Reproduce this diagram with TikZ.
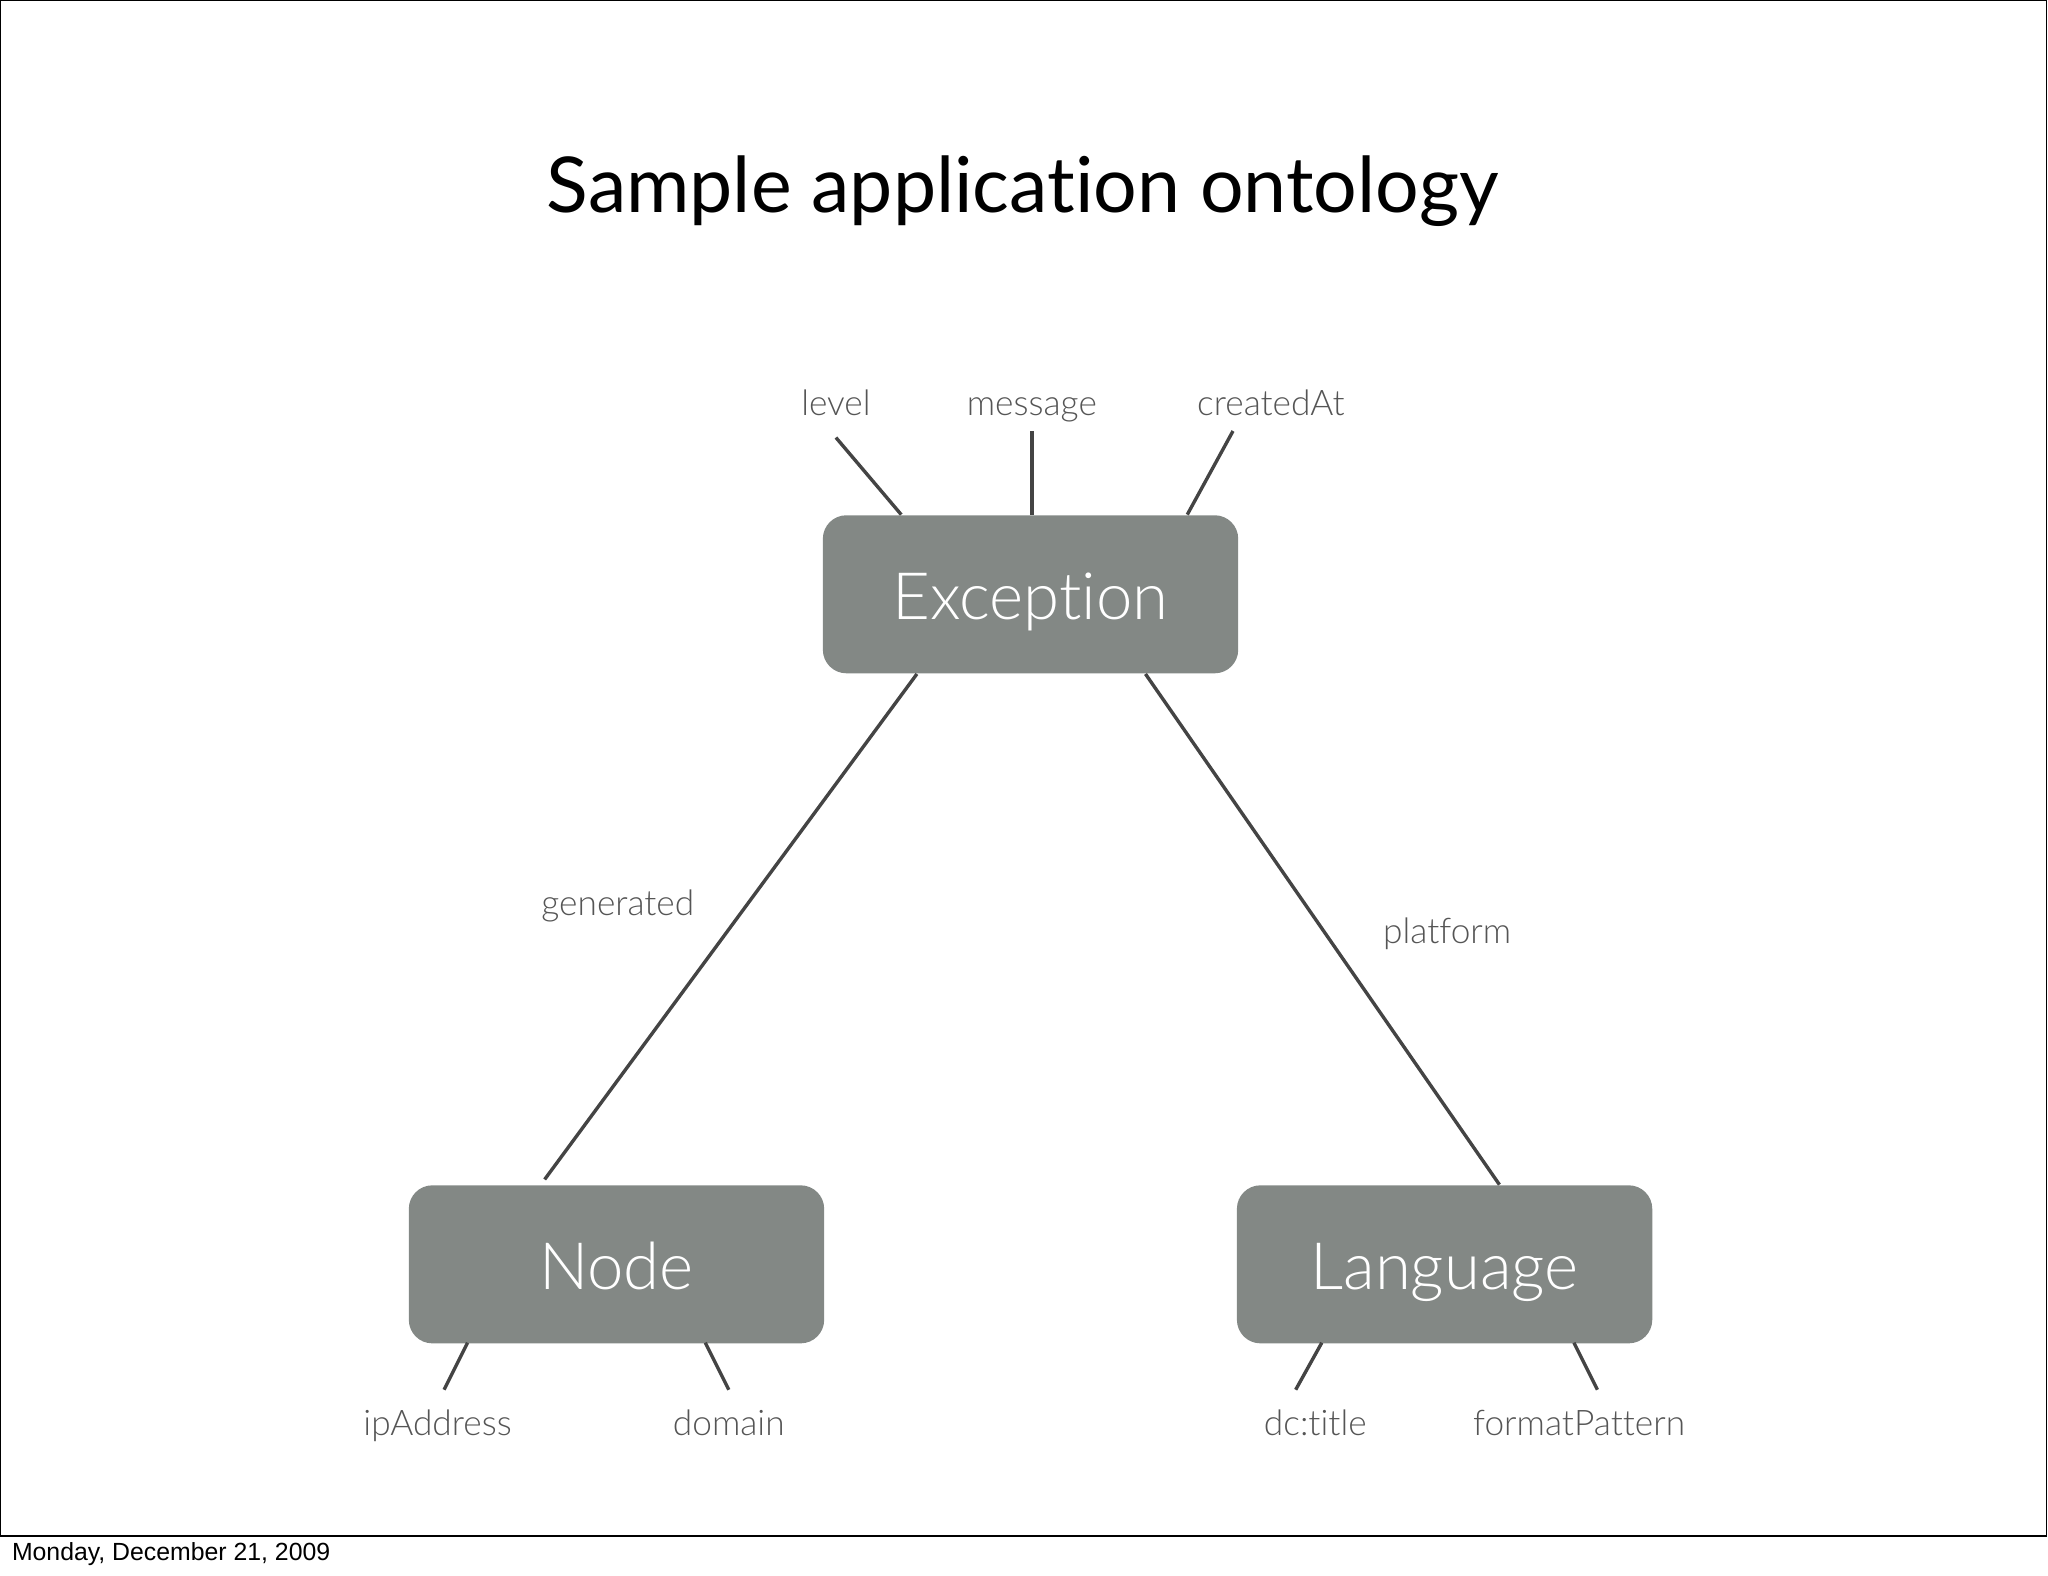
\documentclass[tikz,border=0pt]{standalone}
\usepackage{fontspec}
\setmainfont[Ligatures={NoCommon}]{Lato Light}
\newfontfamily\titlefont[Ligatures={NoCommon}]{Lato}
\newfontfamily\datefont{Liberation Sans}
\begin{document}
\begin{tikzpicture}[x=1pt,y=-1pt,
  box/.style={fill=boxgray,rounded corners=18pt,minimum width=318pt,minimum height=121pt,inner sep=0pt},
  boxtext/.style={text=white,font=\fontsize{50}{50}\selectfont,inner sep=0pt,anchor=base},
  lab/.style={text=labgray,font=\fontsize{27}{27}\selectfont,inner sep=0pt,anchor=base},
  conn/.style={draw=linegray,line width=2.6pt}]
\definecolor{boxgray}{HTML}{838885}
\definecolor{labgray}{HTML}{555555}
\definecolor{linegray}{HTML}{444444}
\useasboundingbox (0,0) rectangle (1568,1206);
\draw[line width=1pt] (0.5,0.5) rectangle (1567,1176);
\node[font=\titlefont\fontsize{59}{59}\selectfont,anchor=base,inner sep=0pt] (title) at (783,163) {Sample application ontology};
\node[box] (exc) at (789,455) {};
\node[box] (node) at (472,968) {};
\node[box] (lang) at (1106,968) {};
\node[boxtext] (exct) at (789,474) {Exception};
\node[boxtext] (nodet) at (472,987) {Node};
\node[boxtext] (langt) at (1106,987) {Language};
\node[lab] (level) at (640,318) {level};
\node[lab] (msg) at (790,318) {message};
\node[lab] (cat) at (973,318) {createdAt};
\node[lab] (gen) at (473,701) {generated};
\node[lab] (plat) at (1108,722) {platform};
\node[lab] (ip) at (335,1099) {ipAddress};
\node[lab] (dom) at (558,1099) {domain};
\node[lab] (dct) at (1007,1099) {dc:title};
\node[lab] (fp) at (1209,1099) {formatPattern};
\coordinate (l1) at (640,335); \coordinate (l2) at (690,394);
\coordinate (m1) at (790,330); \coordinate (m2) at (790,394);
\coordinate (c1) at (944,330); \coordinate (c2) at (909,394);
\coordinate (g1) at (702,516); \coordinate (g2) at (417,903);
\coordinate (p1) at (877,516); \coordinate (p2) at (1148,907);
\coordinate (i1) at (358,1028); \coordinate (i2) at (340,1064);
\coordinate (d1) at (540,1028); \coordinate (d2) at (558,1064);
\coordinate (t1) at (1012,1028); \coordinate (t2) at (992,1064);
\coordinate (f1) at (1205,1028); \coordinate (f2) at (1223,1064);
\foreach \a/\b in {l1/l2,m1/m2,c1/c2,g1/g2,p1/p2,i1/i2,d1/d2,t1/t2,f1/f2}
  \draw[conn] (\a) -- (\b);
\node[font=\datefont\fontsize{19}{19}\selectfont,anchor=west,inner sep=0pt] (date) at (9,1190) {Monday, December 21, 2009};
\end{tikzpicture}
\end{document}
